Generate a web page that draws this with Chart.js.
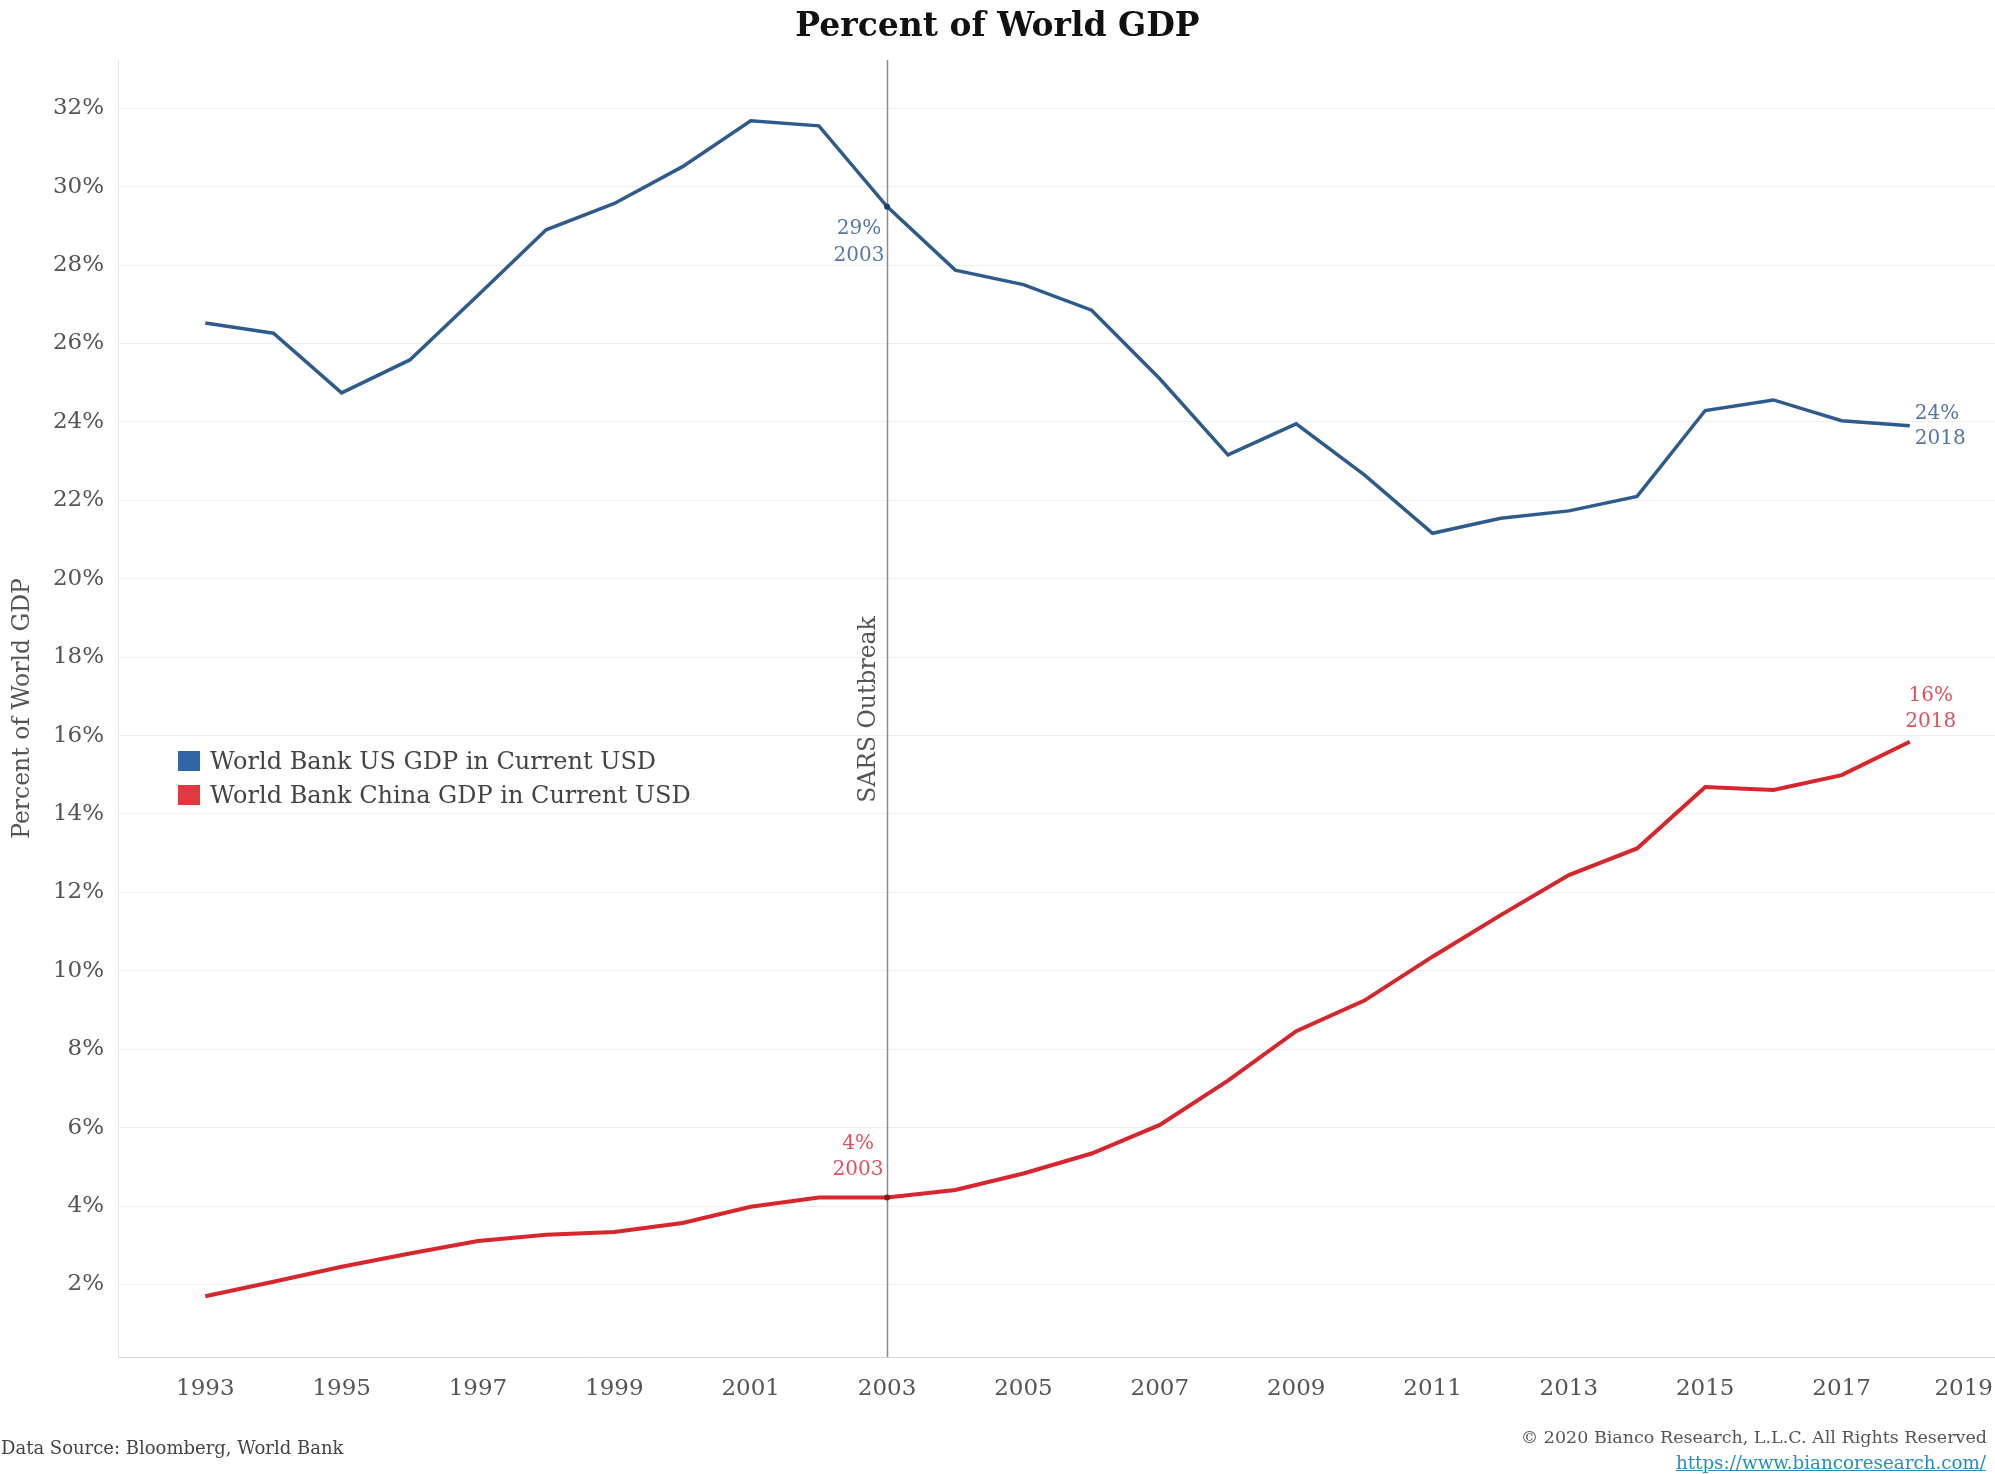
<!DOCTYPE html>
<html>
<head>
<meta charset="utf-8">
<script src="https://cdn.jsdelivr.net/npm/chart.js@4.4.1/dist/chart.umd.min.js"></script>
<style>
  html, body { margin: 0; padding: 0; background: #ffffff; }
  body { width: 1995px; height: 1474px; position: relative; overflow: hidden; font-family: "DejaVu Serif", serif; }
  #c { position: absolute; left: 0; top: 0; }
  .t { position: absolute; white-space: nowrap; line-height: 1; }
  #title { left: 0; width: 1995px; text-align: center; top: 8px; font-weight: bold; font-size: 33px; color: #111111; }
  #legend { position: absolute; left: 178px; top: 744px; }
  .lg-row { display: flex; align-items: center; height: 34px; }
  .lg-box { width: 22px; height: 20px; margin-right: 10px; }
  .lg-txt { font-size: 24px; color: #444444; white-space: nowrap; }
  #src { left: 1px; top: 1439px; font-size: 18px; color: #444444; }
  #copy { right: 8px; top: 1429px; font-size: 17.5px; color: #555555; }
  #link { right: 9px; top: 1454px; font-size: 18.3px; color: #2a8cbf; text-decoration: underline; }
</style>
</head>
<body>
<canvas id="c" width="1995" height="1474"></canvas>
<div class="t" id="title">Percent of World GDP</div>
<div id="legend"></div>
<div class="t" id="src">Data Source: Bloomberg, World Bank</div>
<div class="t" id="copy">© 2020 Bianco Research, L.L.C. All Rights Reserved</div>
<div class="t" id="link">https://www.biancoresearch.com/</div>
<script>
// ---------------- data ----------------
const years = [1993, 1994, 1995, 1996, 1997, 1998, 1999, 2000, 2001, 2002, 2003, 2004, 2005,
               2006, 2007, 2008, 2009, 2010, 2011, 2012, 2013, 2014, 2015, 2016, 2017, 2018];
const usShare = [26.52, 26.26, 24.74, 25.58, 27.23, 28.90, 29.57, 30.51, 31.68, 31.55, 29.49, 27.87, 27.50,
                 26.85, 25.10, 23.16, 23.95, 22.65, 21.16, 21.54, 21.73, 22.10, 24.29, 24.56, 24.03, 23.90];
const chinaShare = [1.70, 2.07, 2.45, 2.79, 3.11, 3.27, 3.34, 3.57, 3.98, 4.22, 4.22, 4.41, 4.83,
                    5.34, 6.07, 7.20, 8.46, 9.24, 10.36, 11.42, 12.44, 13.12, 14.69, 14.61, 14.99, 15.84];
const seriesNames = ["World Bank US GDP in Current USD", "World Bank China GDP in Current USD"];
const xTickYears = [1993, 1995, 1997, 1999, 2001, 2003, 2005, 2007, 2009, 2011, 2013, 2015, 2017, 2019];
const yTickValues = [2, 4, 6, 8, 10, 12, 14, 16, 18, 20, 22, 24, 26, 28, 30, 32];
const eventYear = 2003;
const eventLabel = "SARS Outbreak";

// ---------------- styles ----------------
const US_LINE = "#2e5b8e", CN_LINE = "#d8262d";
const US_BOX = "#3166a6", CN_BOX = "#e0393f";
const US_NOTE = "#5677a3", CN_NOTE = "#e0525a";
const FONT = "DejaVu Serif";

const toPts = arr => arr.map((v, i) => ({ x: years[i], y: v }));

// annotation specs: which series / year and where text goes relative to the point
const notes = [
  { ds: 0, year: 2003, color: US_NOTE, align: "center", dx: -28, dy: [22, 49] },
  { ds: 0, year: 2018, color: US_NOTE, align: "left",   dx: 5,   dy: [-12, 13] },
  { ds: 1, year: 2018, color: CN_NOTE, align: "center", dx: 21,  dy: [-46, -20] },
  { ds: 1, year: 2003, color: CN_NOTE, align: "center", dx: -29, dy: [-54, -28] }
];

const overlay = {
  id: "overlay",
  beforeDraw(chart) {
    // keep the last x label inside the canvas
    const sx = chart.scales.x;
    const items = sx.getLabelItems(chart.chartArea);
    if (items && items.length) {
      const last = items[items.length - 1];
      const ctx = chart.ctx;
      ctx.save();
      ctx.font = last.font.string;
      const w = ctx.measureText(String(last.label)).width;
      ctx.restore();
      const maxX = chart.width - 2 - w / 2;
      if (last.options.translation[0] > maxX) last.options.translation[0] = maxX;
    }
  },
  beforeDatasetsDraw(chart) {
    const { ctx, chartArea: a, scales: { x } } = chart;
    const px = Math.round(x.getPixelForValue(eventYear)) + 0.5;
    ctx.save();
    ctx.strokeStyle = "#8a8a8a";
    ctx.lineWidth = 1.5;
    ctx.beginPath();
    ctx.moveTo(px, a.top);
    ctx.lineTo(px, a.bottom);
    ctx.stroke();
    ctx.translate(px - 19, (a.top + a.bottom) / 2 + 1);
    ctx.rotate(-Math.PI / 2);
    ctx.fillStyle = "#555555";
    ctx.font = "23.5px '" + FONT + "'";
    ctx.textAlign = "center";
    ctx.textBaseline = "middle";
    ctx.fillText(eventLabel, 0, 0);
    ctx.restore();
  },
  afterDatasetsDraw(chart) {
    const { ctx, scales: { x, y } } = chart;
    ctx.save();
    ctx.font = "20px '" + FONT + "'";
    ctx.textBaseline = "middle";
    notes.forEach(n => {
      const idx = years.indexOf(n.year);
      const val = chart.data.datasets[n.ds].data[idx].y;
      const px = x.getPixelForValue(n.year);
      const py = y.getPixelForValue(val);
      ctx.fillStyle = n.color;
      ctx.textAlign = n.align;
      ctx.fillText(Math.round(val) + "%", px + n.dx, py + n.dy[0]);
      ctx.fillText(String(n.year), px + n.dx, py + n.dy[1]);
    });
    ctx.restore();
  }
};

const chart = new Chart(document.getElementById("c"), {
  type: "line",
  data: {
    datasets: [
      {
        label: seriesNames[0], data: toPts(usShare),
        borderColor: US_LINE, backgroundColor: US_BOX, borderWidth: 3.5,
        pointRadius: c => (years[c.dataIndex] === eventYear ? 3 : 0),
        pointBackgroundColor: "#1d3d66", pointBorderWidth: 0, tension: 0
      },
      {
        label: seriesNames[1], data: toPts(chinaShare),
        borderColor: CN_LINE, backgroundColor: CN_BOX, borderWidth: 4,
        pointRadius: c => (years[c.dataIndex] === eventYear ? 3 : 0),
        pointBackgroundColor: "#8e1418", pointBorderWidth: 0, tension: 0
      }
    ]
  },
  options: {
    responsive: false,
    animation: false,
    devicePixelRatio: 1,
    layout: { padding: { top: 60, right: 0, bottom: 0, left: 0 } },
    plugins: { legend: { display: false }, title: { display: false }, tooltip: { enabled: false } },
    scales: {
      x: {
        type: "linear",
        min: 1991.72, max: 2019.25,
        grid: { display: false, drawTicks: false },
        border: { display: true, color: "#d6d6d6", width: 1, dash: [2, 2] },
        afterBuildTicks: s => { s.ticks = xTickYears.map(v => ({ value: v })); },
        afterFit: s => { s.height = 117; s.paddingLeft = 0; s.paddingRight = 0; },
        ticks: {
          autoSkip: false, maxRotation: 0, padding: 18,
          color: "#555555", font: { family: FONT, size: 23 },
          callback: v => String(v)
        }
      },
      y: {
        min: 0.15, max: 33.23,
        grid: { display: true, color: "#efefef", lineWidth: 1, drawTicks: false },
        border: { display: true, color: "#e3e3e3", width: 1 },
        afterBuildTicks: s => { s.ticks = yTickValues.map(v => ({ value: v })); },
        afterFit: s => { s.width = 118; s.paddingTop = 0; s.paddingBottom = 0; },
        ticks: {
          autoSkip: false, padding: 14,
          color: "#555555", font: { family: FONT, size: 23 },
          callback: v => v + "%"
        },
        title: {
          display: true, text: "Percent of World GDP",
          color: "#555555", font: { family: FONT, size: 23.5 },
          padding: { top: 9, bottom: 0 }
        }
      }
    }
  },
  plugins: [overlay]
});

// HTML legend built from the chart's datasets
const lg = document.getElementById("legend");
chart.data.datasets.forEach(ds => {
  const row = document.createElement("div");
  row.className = "lg-row";
  const box = document.createElement("div");
  box.className = "lg-box";
  box.style.background = ds.backgroundColor;
  const txt = document.createElement("span");
  txt.className = "lg-txt";
  txt.textContent = ds.label;
  row.appendChild(box);
  row.appendChild(txt);
  lg.appendChild(row);
});
</script>
</body>
</html>
